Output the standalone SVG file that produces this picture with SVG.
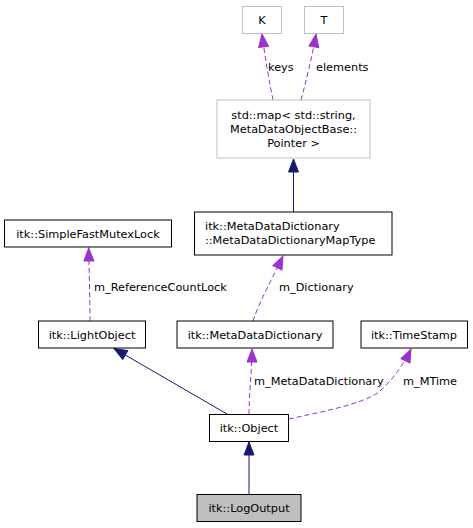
<svg xmlns="http://www.w3.org/2000/svg" width="473" height="528" viewBox="0 0 473 528">
<defs>
<style>
text{font-family:"DejaVu Sans",sans-serif;font-size:11.3px;fill:#000}
.c{text-anchor:middle}
.n{fill:#fff;stroke:#000;stroke-width:1}
.g{fill:#fff;stroke:#bfbfbf;stroke-width:1}
.cur{fill:#bfbfbf;stroke:#000;stroke-width:1}
.inh{fill:none;stroke:#191970;stroke-width:1;marker-end:url(#ab)}
.use{fill:none;stroke:#9a32cd;stroke-width:1;stroke-dasharray:5,3;marker-end:url(#ap)}
</style>
<marker id="ab" markerUnits="userSpaceOnUse" viewBox="-1 -1 15 12" markerWidth="15" markerHeight="12" refX="13" refY="5" orient="auto"><path d="M0,0 L13,5 L0,10 z" fill="#191970" stroke="#191970"/></marker>
<marker id="ap" markerUnits="userSpaceOnUse" viewBox="-1 -1 15 12" markerWidth="15" markerHeight="12" refX="13" refY="5" orient="auto"><path d="M0,0 L13,5 L0,10 z" fill="#9a32cd" stroke="#9a32cd"/></marker>
</defs>
<rect width="473" height="528" fill="#fff"/>
<g id="connectors">
<path class="use" d="M273,100 C270,85 265,58 262,34"/>
<text x="268" y="71">keys</text>
<path class="use" d="M301,100 C305,85 312,58 316,34"/>
<text x="316" y="71">elements</text>
<path class="inh" d="M293.5,212 L293.5,159"/>
<path class="use" d="M90,321 C90,300 89,270 88.7,248"/>
<text x="94" y="291">m_ReferenceCountLock</text>
<path class="use" d="M253,321 C260,300 274,275 283,256"/>
<text x="279" y="291">m_Dictionary</text>
<path class="inh" d="M227,414 L114,348.5"/>
<path class="use" d="M249,414 C249,395 252,370 252,349"/>
<text x="254" y="384.5">m_MetaDataDictionary</text>
<path class="use" d="M289,419 C320,412 365,404 380,391 C392,380 403,366 411,349"/>
<text x="403" y="384.5">m_MTime</text>
<path class="inh" d="M249,494 L249,442"/>
</g>
<g id="node-K"><rect class="g" x="242.5" y="6.5" width="39" height="27"/><text class="c" x="262" y="24">K</text></g>
<g id="node-T"><rect class="g" x="304.5" y="6.5" width="39" height="27"/><text class="c" x="324" y="24">T</text></g>
<g id="node-map"><rect class="g" x="217" y="100" width="153" height="58"/>
<text class="c" x="293.5" y="119">std::map&lt; std::string,</text>
<text class="c" x="293.5" y="133">MetaDataObjectBase::</text>
<text class="c" x="293.5" y="147">Pointer &gt;</text></g>
<g id="node-maptype"><rect class="n" x="194.5" y="212" width="197.5" height="43"/>
<text x="205" y="229.5">itk::MetaDataDictionary</text>
<text x="205" y="243.5">::MetaDataDictionaryMapType</text></g>
<g id="node-mutex"><rect class="n" x="4.5" y="220" width="167" height="27"/><text class="c" x="88" y="237.5">itk::SimpleFastMutexLock</text></g>
<g id="node-lightobject"><rect class="n" x="38.5" y="321" width="107" height="27"/><text class="c" x="92" y="338.5">itk::LightObject</text></g>
<g id="node-mdd"><rect class="n" x="177" y="321" width="156" height="27"/><text class="c" x="255" y="338.5">itk::MetaDataDictionary</text></g>
<g id="node-timestamp"><rect class="n" x="361" y="321" width="106.5" height="27"/><text class="c" x="414" y="338.5">itk::TimeStamp</text></g>
<g id="node-object"><rect class="n" x="209.5" y="414.5" width="79" height="27"/><text class="c" x="249" y="432">itk::Object</text></g>
<g id="node-logoutput"><rect class="cur" x="197" y="494.5" width="104" height="27"/><text class="c" x="249" y="512">itk::LogOutput</text></g>
</svg>
